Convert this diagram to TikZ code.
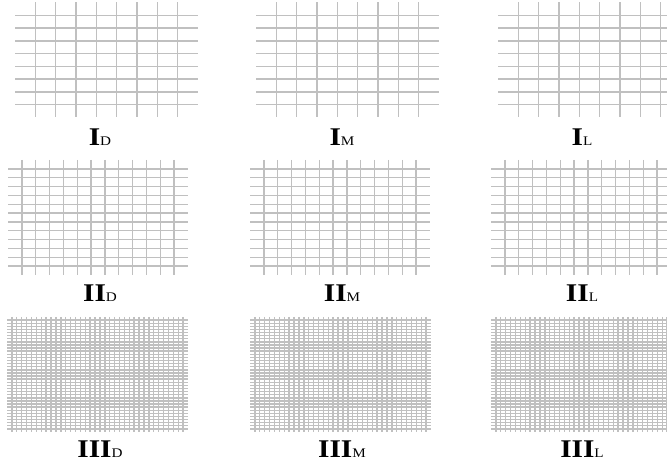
\documentclass[tikz,border=0pt]{standalone}
\usepackage{fontspec}
\setmainfont{Liberation Serif}
\usepackage{graphicx}
\usepackage{tikz}
\usetikzlibrary{positioning}
\definecolor{gridgray}{RGB}{192,192,192}
\newcommand{\lblsub}[1]{{\mdseries\fontsize{7.5}{8}\selectfont #1}}
\newcommand{\lbltext}[2]{\scalebox{1.15}[1]{#1\lblsub{#2}}}
\tikzset{
  gridline/.style={line width=0.8pt, color=gridgray},
  panellabel/.style={anchor=base, inner sep=0pt, text=black,
    font=\fontsize{14.5}{16}\selectfont\bfseries}
}

\begin{document}
\begin{tikzpicture}[x=0.02cm, y=-0.02cm]
  \useasboundingbox (0,0) rectangle (667,469);
  \clip (0,0) rectangle (667,469);

  % Lattices: left x, top y, number of lines, width
  \foreach \xo/\yo/\n/\w in {15/2.5/8/183, 256/2.5/8/183, 498/2.5/8/183,
                             8/160/12/180, 250/160/12/180, 491/160/12/180,
                             7/317/36/181, 250/317/36/181, 491/317/36/181} {
    \foreach \i in {1,...,\n} {
      \draw[gridline] (\xo, {\yo+115*\i/(\n+1)}) -- ++(\w,0);
      \draw[gridline] ({\xo+\w*\i/(\n+1)}, \yo) -- ++(0,115);
    }
  }

  % Labels
  \node[panellabel] (lblID) at (100,146) {\lbltext{I}{D}};
  \node[panellabel] (lblIM) at (342,146) {\lbltext{I}{M}};
  \node[panellabel] (lblIL) at (582,146) {\lbltext{I}{L}};
  \node[panellabel] (lblIID) at (100,302) {\lbltext{II}{D}};
  \node[panellabel] (lblIIM) at (342,302) {\lbltext{II}{M}};
  \node[panellabel] (lblIIL) at (582,302) {\lbltext{II}{L}};
  \node[panellabel] (lblIIID) at (100,458) {\lbltext{III}{D}};
  \node[panellabel] (lblIIIM) at (342,458) {\lbltext{III}{M}};
  \node[panellabel] (lblIIIL) at (582,458) {\lbltext{III}{L}};
\end{tikzpicture}
\end{document}
